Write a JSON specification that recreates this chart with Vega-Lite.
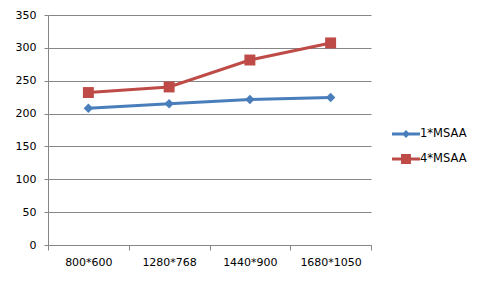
{
  "$schema": "https://vega.github.io/schema/vega-lite/v6.json",
  "width": 323,
  "height": 230,
  "autosize": "none",
  "padding": {"left": 48, "top": 15, "right": 112, "bottom": 46},
  "background": "white",
  "config": {
    "view": {"stroke": null},
    "font": "DejaVu Sans",
    "axis": {"labelFont": "DejaVu Sans", "labelFontSize": 11, "labelColor": "#000000", "domainColor": "#868686", "tickColor": "#868686", "gridColor": "#868686", "gridOpacity": 1, "domainWidth": 1, "tickWidth": 1, "gridWidth": 1}
  },
  "data": {
    "values": [
      {"res": "800*600", "series": "1*MSAA", "v": 208},
      {"res": "1280*768", "series": "1*MSAA", "v": 215},
      {"res": "1440*900", "series": "1*MSAA", "v": 221.5},
      {"res": "1680*1050", "series": "1*MSAA", "v": 224.5},
      {"res": "800*600", "series": "4*MSAA", "v": 232},
      {"res": "1280*768", "series": "4*MSAA", "v": 240.5},
      {"res": "1440*900", "series": "4*MSAA", "v": 281.5},
      {"res": "1680*1050", "series": "4*MSAA", "v": 307.5}
    ]
  },
  "encoding": {
    "x": {
      "field": "res", "type": "nominal", "sort": null,
      "scale": {"paddingInner": 0, "paddingOuter": 0},
      "axis": {"title": null, "labelAngle": 0, "tickBand": "extent", "tickSize": 5, "labelPadding": 6, "grid": false}
    },
    "y": {
      "field": "v", "type": "quantitative",
      "scale": {"domain": [0, 350], "nice": false},
      "axis": {"title": null, "values": [0, 50, 100, 150, 200, 250, 300, 350], "tickSize": 4, "labelPadding": 8, "grid": true, "domain": true}
    },
    "color": {
      "field": "series", "type": "nominal",
      "scale": {"domain": ["1*MSAA", "4*MSAA"], "range": ["#4A7EBB", "#BE4B48"]},
      "legend": {
        "title": null,
        "orient": "none",
        "legendX": 350,
        "legendY": 111,
        "symbolSize": 256,
        "symbolStrokeWidth": 0,
        "labelFont": "DejaVu Sans",
        "labelFontSize": 11.5,
        "labelColor": "#000000",
        "labelOffset": 6,
        "rowPadding": 11,
        "encode": {
          "symbols": {
            "update": {
              "shape": {"signal": "datum.value == '1*MSAA' ? 'M-1.75,-0.19H1.75V0.19H-1.75Z M0,-0.5L0.5,0L0,0.5L-0.5,0Z' : 'M-1.75,-0.19H1.75V0.19H-1.75Z M-0.62,-0.62H0.62V0.62H-0.62Z'"},
              "fill": {"signal": "datum.value == '1*MSAA' ? '#4A7EBB' : '#BE4B48'"},
              "fillOpacity": {"value": 1},
              "strokeWidth": {"value": 0}
            }
          }
        }
      }
    }
  },
  "layer": [
    {"mark": {"type": "line", "strokeWidth": 3}},
    {
      "mark": {"type": "point", "filled": true, "opacity": 1},
      "encoding": {
        "shape": {"condition": {"test": "datum.series == '1*MSAA'", "value": "diamond"}, "value": "square"},
        "size": {"condition": {"test": "datum.series == '1*MSAA'", "value": 90}, "value": 120}
      }
    }
  ]
}
